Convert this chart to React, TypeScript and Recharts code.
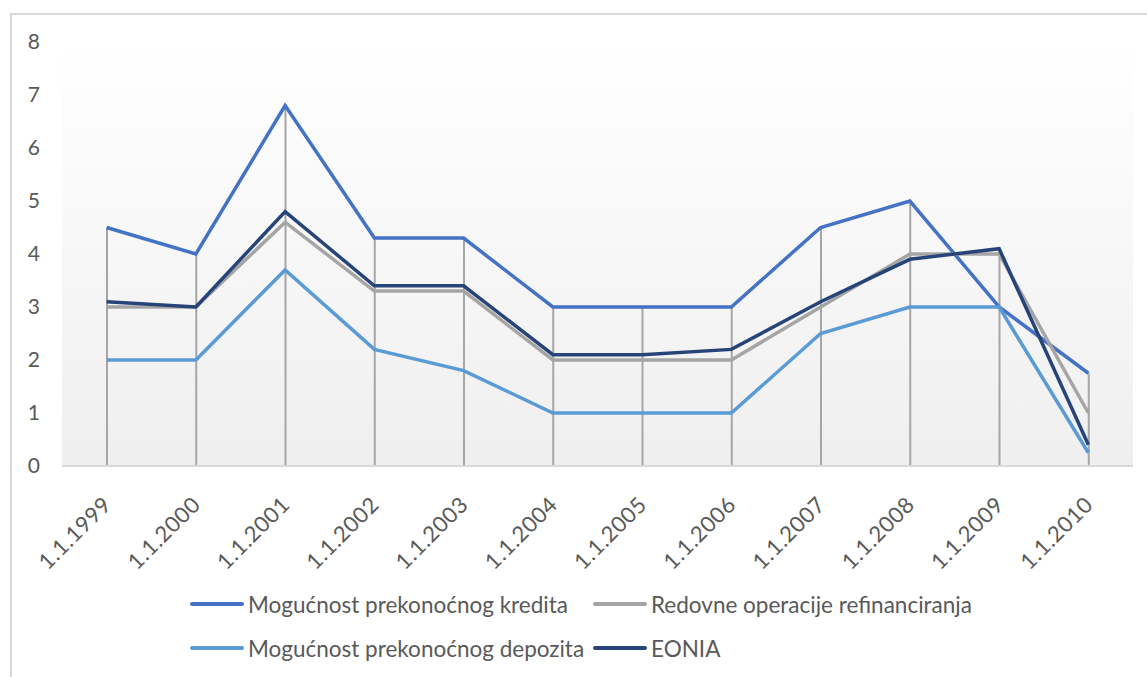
import React from 'react';
import { ComposedChart, Line, Bar, XAxis, YAxis, CartesianGrid, Legend } from 'recharts';

const dates = ['1.1.1999', '1.1.2000', '1.1.2001', '1.1.2002', '1.1.2003', '1.1.2004', '1.1.2005', '1.1.2006', '1.1.2007', '1.1.2008', '1.1.2009', '1.1.2010'];
const kredit = [4.5, 4.0, 6.8, 4.3, 4.3, 3.0, 3.0, 3.0, 4.5, 5.0, 3.0, 1.75];
const refin = [3.0, 3.0, 4.6, 3.3, 3.3, 2.0, 2.0, 2.0, 3.0, 4.0, 4.0, 1.0];
const depozit = [2.0, 2.0, 3.7, 2.2, 1.8, 1.0, 1.0, 1.0, 2.5, 3.0, 3.0, 0.25];
const eonia = [3.1, 3.0, 4.8, 3.4, 3.4, 2.1, 2.1, 2.2, 3.1, 3.9, 4.1, 0.4];
const yTicks = [0, 1, 2, 3, 4, 5, 6, 7, 8];

const seriesNames = {
  kredit: 'Mogućnost prekonoćnog kredita',
  refin: 'Redovne operacije refinanciranja',
  depozit: 'Mogućnost prekonoćnog depozita',
  eonia: 'EONIA',
};
const legendOrder = [seriesNames.kredit, seriesNames.refin, seriesNames.depozit, seriesNames.eonia];

const data = dates.map((d, i) => ({
  date: d,
  kredit: kredit[i],
  refin: refin[i],
  depozit: depozit[i],
  eonia: eonia[i],
  drop: Math.max(kredit[i], refin[i], depozit[i], eonia[i]),
}));

const FONT = 'Lato, "Open Sans", sans-serif';
const TEXT = '#595959';

const XTick = (props: any) => {
  const { x, y, payload } = props;
  return (
    <g transform={`translate(${x + 6},${y + 32})`}>
      <text x={0} y={0} transform="rotate(-45)" textAnchor="end" fill={TEXT} fontSize={22} fontFamily={FONT} letterSpacing={0.6}>
        {payload.value}
      </text>
    </g>
  );
};

const renderLegend = (props: any) => {
  const items = (props.payload || [])
    .filter((p: any) => legendOrder.includes(p.value))
    .sort((a: any, b: any) => legendOrder.indexOf(a.value) - legendOrder.indexOf(b.value));
  return (
    <div
      style={{
        width: 1147,
        height: 97,
        boxSizing: 'border-box',
        paddingLeft: 190,
        paddingTop: 2,
        display: 'grid',
        gridTemplateColumns: '403px auto',
        gridAutoRows: '44px',
        fontFamily: FONT,
        fontSize: 22.5,
        color: TEXT,
      }}
    >
      {items.map((it: any) => (
        <div key={it.value} style={{ display: 'flex', alignItems: 'center', whiteSpace: 'nowrap' }}>
          <span style={{ display: 'inline-block', width: 54, height: 4, borderRadius: 2, background: it.color, marginRight: 4 }} />
          <span>{it.value}</span>
        </div>
      ))}
    </div>
  );
};

export default function App() {
  return (
    <div style={{ position: 'absolute', left: 0, top: 0, width: 1147, height: 677, background: '#fff', overflow: 'hidden', fontFamily: FONT }}>
      <div style={{ position: 'absolute', left: 10, top: 13, width: 1200, height: 700, borderLeft: '2px solid #d9d9d9', borderTop: '2px solid #d9d9d9' }} />
      <div style={{ position: 'absolute', left: 0, top: 0 }}>
        <ComposedChart width={1147} height={677} data={data} margin={{ top: 42, right: 14, left: 0, bottom: 0 }}>
          <defs>
            <linearGradient id="plotBg" x1="0" y1="0" x2="0" y2="1">
              <stop offset="0%" stopColor="#ffffff" />
              <stop offset="100%" stopColor="#efefef" />
            </linearGradient>
          </defs>
          <CartesianGrid horizontal={false} vertical={false} fill="url(#plotBg)" fillOpacity={1} />
          <XAxis
            dataKey="date"
            height={114}
            interval={0}
            tickLine={false}
            axisLine={{ stroke: '#d9d9d9', strokeWidth: 2 }}
            tick={<XTick />}
          />
          <YAxis
            width={62}
            domain={[0, 8]}
            ticks={yTicks}
            axisLine={false}
            tickLine={false}
            tickMargin={16}
            tick={{ fill: TEXT, fontSize: 21, fontFamily: FONT }}
          />
          <Legend verticalAlign="bottom" content={renderLegend} wrapperStyle={{ left: 0, width: 1147 }} />
          <Bar dataKey="drop" barSize={2} fill="#a6a6a6" legendType="none" isAnimationActive={false} />
          <Line dataKey="kredit" name={seriesNames.kredit} stroke="#4472C4" strokeWidth={3.5} dot={false} activeDot={false} isAnimationActive={false} />
          <Line dataKey="refin" name={seriesNames.refin} stroke="#A5A5A5" strokeWidth={3.5} dot={false} activeDot={false} isAnimationActive={false} />
          <Line dataKey="depozit" name={seriesNames.depozit} stroke="#5B9BD5" strokeWidth={3.5} dot={false} activeDot={false} isAnimationActive={false} />
          <Line dataKey="eonia" name={seriesNames.eonia} stroke="#264478" strokeWidth={3.5} dot={false} activeDot={false} isAnimationActive={false} />
        </ComposedChart>
      </div>
    </div>
  );
}
